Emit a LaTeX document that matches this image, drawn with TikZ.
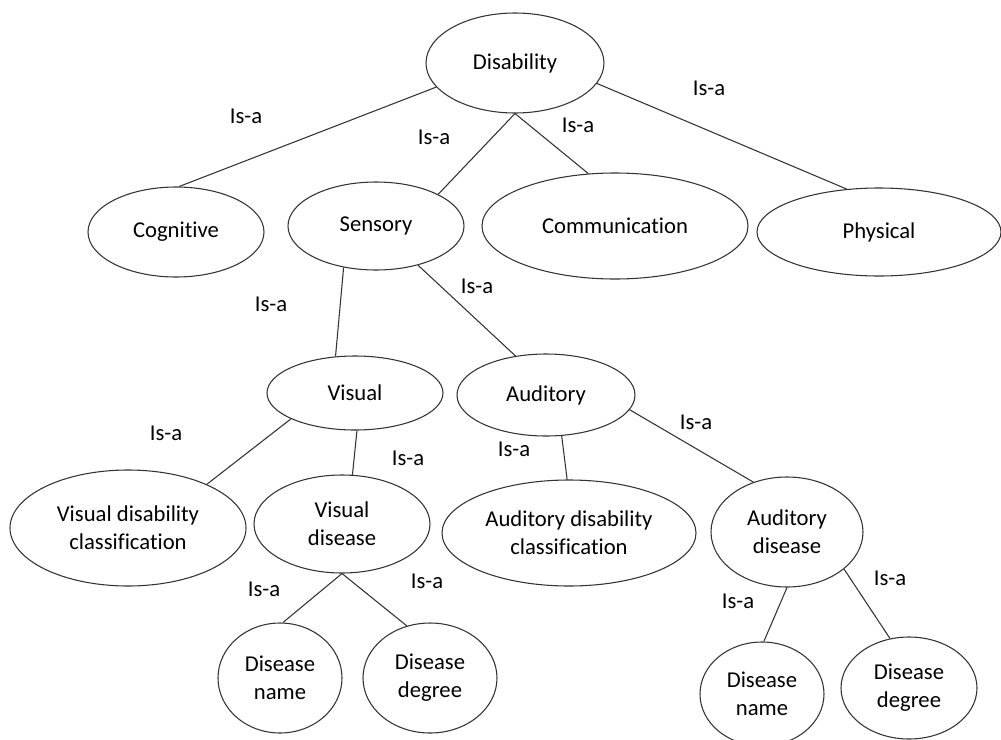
\documentclass[tikz,border=0pt]{standalone}
\usepackage{fontspec}
\setmainfont{Carlito}[Ligatures=NoCommon]
\usetikzlibrary{shapes.geometric}

\begin{document}
\begin{tikzpicture}[x=0.75pt,y=-0.75pt,
  every node/.style={font=\fontsize{17}{21}\selectfont, text=black},
  concept/.style={ellipse, draw=black!80, line width=0.8pt, inner sep=0pt, align=center},
  sz/.style 2 args={minimum width=0.75*#1, minimum height=0.75*#2},
  isa/.style={inner sep=0pt},
  link/.style={draw=black!80, line width=0.8pt}]
\useasboundingbox (0,0) rectangle (1001,740);

% concept ellipses
\node[concept, sz={178}{100}] (dis) at (515,63) {Disability};
\node[concept, sz={176}{90}]  (cog) at (176,232) {Cognitive};
\node[concept, sz={176}{88}]  (sen) at (376,226) {Sensory};
\node[concept, sz={266}{106}] (com) at (615,226) {Communication};
\node[concept, sz={244}{88}]  (phy) at (879,232) {Physical};

\node[concept, sz={176}{74}]  (vis) at (355,393) {Visual};
\node[concept, sz={178}{82}]  (aud) at (546,395) {Auditory};

\node[concept, sz={236}{116}] (vdc)  at (128,528) {Visual disability\\classification};
\node[concept, sz={176}{98}]  (vdis) at (342,524) {Visual\\disease};
\node[concept, sz={254}{106}] (adc)  at (569,533) {Auditory disability\\classification};
\node[concept, sz={152}{110}] (adis) at (787,532) {Auditory\\disease};

\node[concept, sz={124}{110}] (dn1) at (280,678) {Disease\\name};
\node[concept, sz={134}{110}] (dd1) at (430,678) {Disease\\degree};
\node[concept, sz={124}{104}] (dn2) at (762,694) {Disease\\name};
\node[concept, sz={136}{102}] (dd2) at (909,688) {Disease\\degree};

% is-a links
\draw[link] (dis.197) -- (cog.86);
\draw[link] (dis.270) -- (sen.27);
\draw[link] (dis.270) -- (com.117);
\draw[link] (dis.346) -- (phy.127);
\draw[link] (sen.232) -- (vis.118);
\draw[link] (sen.317) -- (aud.128);
\draw[link] (vis.202) -- (vdc.29);
\draw[link] (vis.273) -- (vdis.78);
\draw[link] (aud.291) -- (adc.92);
\draw[link] (aud.350) -- (adis.124);
\draw[link] (vdis.270) -- (dn1.87);
\draw[link] (vdis.270) -- (dd1.114);
\draw[link] (adis.270) -- (dn2.88);
\draw[link] (adis.327) -- (dd2.111);

% link labels
\node[isa] (l1)  at (246,116) {Is-a};
\node[isa] (l2)  at (434,137) {Is-a};
\node[isa] (l3)  at (578,125) {Is-a};
\node[isa] (l4)  at (709,88)  {Is-a};
\node[isa] (l5)  at (271,304) {Is-a};
\node[isa] (l6)  at (477,286) {Is-a};
\node[isa] (l7)  at (166,433) {Is-a};
\node[isa] (l8)  at (408,458) {Is-a};
\node[isa] (l9)  at (514,449) {Is-a};
\node[isa] (l10) at (696,422) {Is-a};
\node[isa] (l11) at (264,589) {Is-a};
\node[isa] (l12) at (427,581) {Is-a};
\node[isa] (l13) at (738,601) {Is-a};
\node[isa] (l14) at (890,578) {Is-a};
\end{tikzpicture}
\end{document}
